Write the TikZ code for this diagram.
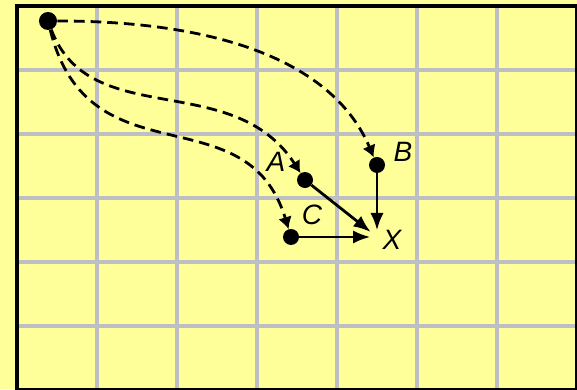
\documentclass[tikz,border=0pt]{standalone}
\usepackage{fontspec}
\setmainfont{Liberation Sans}
\usetikzlibrary{arrows.meta}
\definecolor{paper}{RGB}{255,255,153}
\definecolor{gridgray}{RGB}{190,190,198}

\begin{document}
\begin{tikzpicture}[x=60pt,y=48pt,
  dot/.style={circle,fill=black,inner sep=0pt,minimum size=12pt},
  lbl/.style={font=\fontsize{21}{25}\selectfont\itshape,inner sep=0pt},
  flow/.style={line width=2.1pt,-{Latex[length=13pt,width=10pt]}},
  dflow/.style={line width=2.1pt,dash pattern=on 8pt off 4.5pt,-{Latex[length=9pt,width=10.5pt]}}]
\useasboundingbox[fill=paper] (-0.2125,0.015625) rectangle (7,6.09375);
\draw[gridgray,line width=2.4pt,step={(1,1)}] (0,0) grid (7,6);
\draw[line width=3pt] (0,0) rectangle (7,6);

\node[dot,minimum size=13.5pt] (s) at (0.3875,5.766) {};
\node[dot] (a) at (3.6,3.281) {};
\node[dot] (b) at (4.5,3.516) {};
\node[dot] (c) at (3.425,2.391) {};
\coordinate (x) at (4.5,2.391);

\node[lbl] (la) at (3.2375,3.5625) {A};
\node[lbl] (lb) at (4.825,3.719) {B};
\node[lbl] (lc) at (3.6875,2.734) {C};
\node[lbl] (lx) at (4.6875,2.344) {X};

\draw[dflow] (s) .. controls (2.6375,5.766) and (3.975,5.0625) .. (b);
\draw[dflow] (s) .. controls (0.9125,4.031) and (2.7,5.031) .. (a);
\draw[dflow] (s) .. controls (0.9,3.219) and (2.869,4.672) .. (c);

\draw[flow,shorten >=6pt] (a) -- (x);
\draw[flow,shorten >=5pt] (b) -- (x);
\draw[flow,shorten >=5pt] (c) -- (x);
\end{tikzpicture}
\end{document}
